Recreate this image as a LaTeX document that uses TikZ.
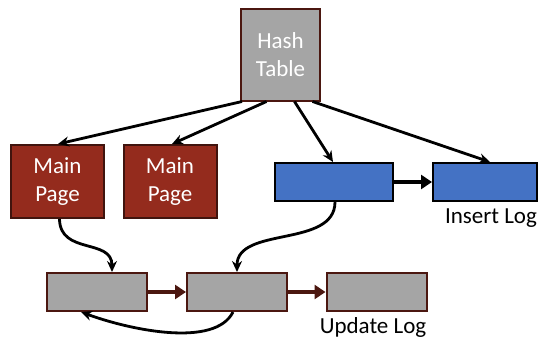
\documentclass[tikz,border=0pt]{standalone}
\usepackage{fontspec}
\setmainfont{Carlito}
\usetikzlibrary{arrows.meta}
\definecolor{tablegray}{HTML}{A5A5A5}
\definecolor{pagered}{HTML}{942B1D}
\definecolor{logblue}{HTML}{4472C4}
\definecolor{darkbrown}{HTML}{4B1710}
\begin{document}
\begin{tikzpicture}[x=1pt,y=-1pt,
  box/.style={draw,line width=2pt,inner sep=0pt,align=center,
    font=\fontsize{23}{28}\selectfont,text=white},
  hashbox/.style={box,fill=tablegray,draw=darkbrown,minimum width=79pt,minimum height=92pt},
  mainpage/.style={box,fill=pagered,draw=darkbrown!85!black,minimum width=93pt,minimum height=73pt},
  inslog/.style={box,fill=logblue,draw=black,minimum height=38pt},
  updlog/.style={box,fill=tablegray,draw=darkbrown,minimum width=100pt,minimum height=38pt},
  ptr/.style={line width=2.8pt,-{Stealth[length=11pt,width=10pt]}},
  link/.style={line width=4.5pt,-{Triangle[length=11pt,width=14pt]}},
  loglabel/.style={font=\fontsize{23}{28}\selectfont}]
  \useasboundingbox (0,0) rectangle (547,341);
  % hash table and main pages
  \node[hashbox] (hash) at (280.5,54.5) {Hash\\Table};
  \node[mainpage] (mp1) at (57.5,181.5) {Main\\Page};
  \node[mainpage] (mp2) at (170,181.5) {Main\\Page};
  % insert log
  \node[inslog,minimum width=118pt] (ins1) at (334,182) {};
  \node[inslog,minimum width=104pt] (ins2) at (485,182) {};
  \node[loglabel,anchor=north] (inslabel) at (491,205) {Insert Log};
  % update log
  \node[updlog] (up1) at (97,292) {};
  \node[updlog] (up2) at (237,292) {};
  \node[updlog] (up3) at (376.5,292) {};
  \node[loglabel,anchor=north] (uplabel) at (373,314) {Update Log};
  % pointers out of the hash table
  \draw[ptr] (hash.south west) ++(2,0) -- ([xshift=0.5pt]mp1.north);
  \draw[ptr] ([xshift=-14pt]hash.south) -- ([xshift=2pt]mp2.north);
  \draw[ptr] ([xshift=14pt]hash.south) -- ([xshift=-1pt]ins1.north);
  \draw[ptr] ([xshift=32pt]hash.south) -- ([xshift=5pt]ins2.north);
  % chains
  \draw[link] (ins1.east) -- (ins2.west);
  \draw[link,darkbrown] (up1.east) -- (up2.west);
  \draw[link,darkbrown] (up2.east) -- (up3.west);
  % curved pointers
  \draw[ptr] ([xshift=2pt]mp1.south) .. controls (60,255) and (112,238) .. ([xshift=15pt]up1.north);
  \draw[ptr] ([xshift=1pt]ins1.south) .. controls (335,248) and (237,226) .. (up2.north);
  \draw[ptr] ([xshift=-4pt]up2.south) .. controls (215,348) and (130,330) .. ([xshift=-16pt]up1.south);
\end{tikzpicture}
\end{document}
